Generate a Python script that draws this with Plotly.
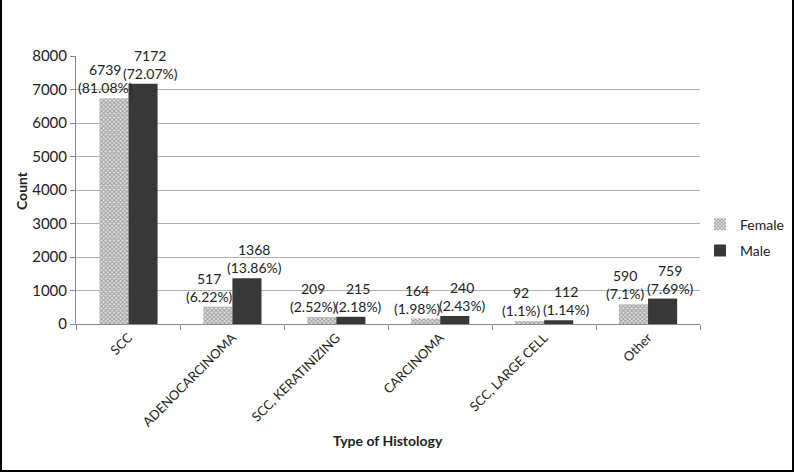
import plotly.graph_objects as go

categories = ["SCC", "ADENOCARCINOMA", "SCC, KERATINIZING", "CARCINOMA", "SCC, LARGE CELL", "Other"]
female_counts = [6739, 517, 209, 164, 92, 590]
female_pct = ["81.08%", "6.22%", "2.52%", "1.98%", "1.1%", "7.1%"]
male_counts = [7172, 1368, 215, 240, 112, 759]
male_pct = ["72.07%", "13.86%", "2.18%", "2.43%", "1.14%", "7.69%"]
y_ticks = [0, 1000, 2000, 3000, 4000, 5000, 6000, 7000, 8000]

FONT = "Lato, Open Sans, Liberation Sans, sans-serif"

fig = go.Figure()
fig.add_trace(go.Bar(
    name="Female", x=categories, y=female_counts, legendgroup="f",
    marker=dict(color="#d0d0d0", line=dict(width=0),
                pattern=dict(shape="x", fgcolor="#555555", bgcolor="#e0e0e0", size=3, solidity=0.5)),
))
fig.add_trace(go.Bar(
    name="Male", x=categories, y=male_counts, legendgroup="m",
    marker=dict(color="#383838", line=dict(width=0)),
))

W, H = 794, 472
ml, mr, mt, mb = 76, 94, 56, 148
pw, ph = W - ml - mr, H - mt - mb

annotations = []
for cat, c, p in zip(categories, female_counts, female_pct):
    annotations.append(dict(x=cat, y=c, xref="x", yref="y", text=f"{c}<br>({p})",
                            showarrow=False, xanchor="center", yanchor="bottom",
                            xshift=-23, yshift=0, font=dict(size=14, color="#222")))
for cat, c, p in zip(categories, male_counts, male_pct):
    annotations.append(dict(x=cat, y=c, xref="x", yref="y", text=f"{c}<br>({p})",
                            showarrow=False, xanchor="center", yanchor="bottom",
                            xshift=22, yshift=0, font=dict(size=14, color="#222")))
annotations += [
    dict(text="<b>Type of Histology</b>", xref="paper", yref="paper",
         x=0.5, y=-(440 - mt - ph) / ph, xanchor="center", yanchor="middle",
         showarrow=False, font=dict(size=14)),
    dict(text="<b>Count</b>", xref="paper", yref="paper", textangle=-90,
         x=-(ml - 21) / pw, y=0.5, xanchor="center", yanchor="middle",
         showarrow=False, font=dict(size=14)),
]

fig.update_layout(
    width=W, height=H,
    margin=dict(l=ml, r=mr, t=mt, b=mb, autoexpand=False),
    paper_bgcolor="white", plot_bgcolor="white",
    font=dict(family=FONT, size=13, color="#222"),
    barmode="group", bargap=0.44, bargroupgap=0.0,
    legend=dict(x=1.0, y=0.43, xanchor="left", yanchor="top",
                font=dict(size=14), itemwidth=30, tracegroupgap=5,
                bgcolor="rgba(0,0,0,0)"),
    xaxis=dict(tickangle=-45, tickfont=dict(size=13), showline=True, linecolor="#888",
               ticks="outside", ticklen=5, tickcolor="#888", tickson="boundaries",
               automargin=False, title=None),
    yaxis=dict(range=[0, 8000], tickvals=y_ticks, showgrid=True, gridcolor="#b0b0b0",
               showline=True, linecolor="#888", ticks="outside", ticklen=5, tickcolor="#888",
               tickfont=dict(size=15), zeroline=False, automargin=False, title=None),
    annotations=annotations,
    shapes=[dict(type="rect", xref="paper", yref="paper",
                 x0=-(ml - 1) / pw, x1=(W - ml - 1) / pw,
                 y0=-(mb - 1) / ph, y1=(H - mt - 1) / ph,
                 line=dict(color="black", width=2), fillcolor="rgba(0,0,0,0)", layer="above")],
)

fig.write_html("out.html", config={"displayModeBar": False},
               post_script="document.body.style.margin='0';")
